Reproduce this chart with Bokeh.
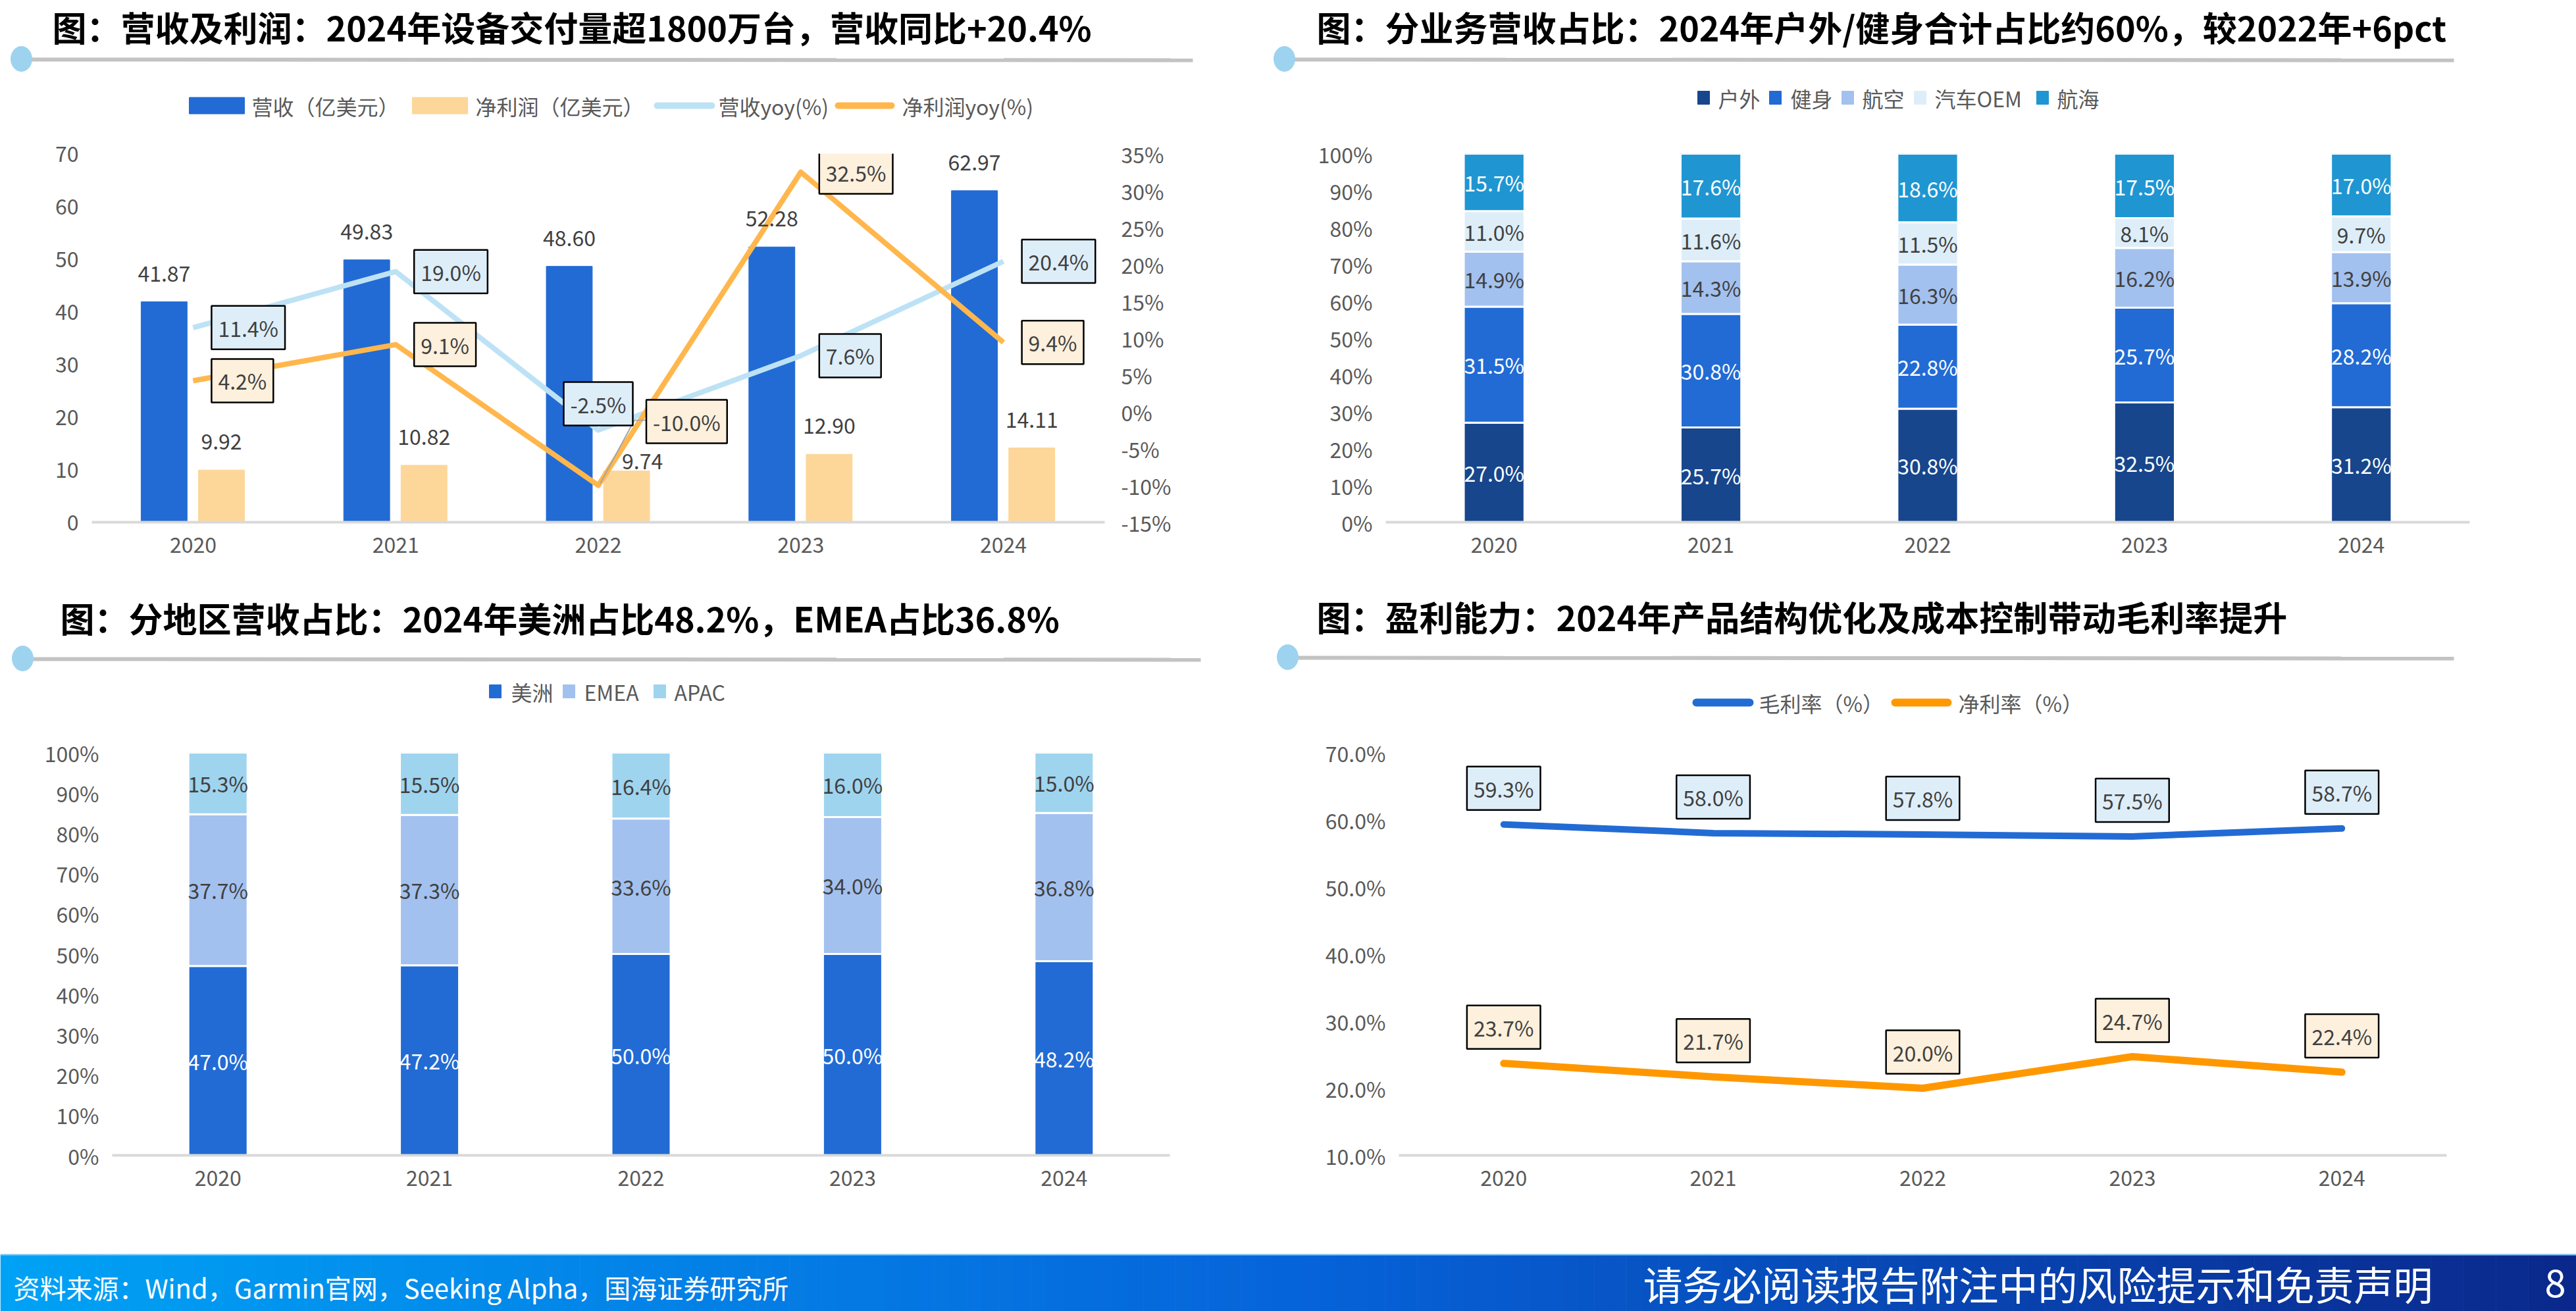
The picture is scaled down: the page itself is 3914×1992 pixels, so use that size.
import numpy as np
from bokeh.plotting import figure
from bokeh.models import (ColumnDataSource, FactorRange, Range1d, LinearAxis, FixedTicker,
                          LabelSet, Label, PrintfTickFormatter)
from bokeh.transform import dodge
from bokeh.layouts import column, row
from bokeh.core.properties import value
from bokeh.embed import file_html
from bokeh.resources import INLINE

FONT = "Noto Sans CJK SC"
TICK_COLOR = "#595959"
LABEL_COLOR = "#404040"

# ---------------- data ----------------
years = ["2020", "2021", "2022", "2023", "2024"]

revenue = [41.87, 49.83, 48.60, 52.28, 62.97]          # 营收（亿美元）
net_profit = [9.92, 10.82, 9.74, 12.90, 14.11]         # 净利润（亿美元）
revenue_yoy = [11.4, 19.0, -2.5, 7.6, 20.4]            # 营收yoy(%)
profit_yoy = [4.2, 9.1, -10.0, 32.5, 9.4]              # 净利润yoy(%)

seg_names = ["户外", "健身", "航空", "汽车OEM", "航海"]
seg_outdoor = [27.0, 25.7, 30.8, 32.5, 31.2]
seg_fitness = [31.5, 30.8, 22.8, 25.7, 28.2]
seg_aviation = [14.9, 14.3, 16.3, 16.2, 13.9]
seg_auto = [11.0, 11.6, 11.5, 8.1, 9.7]
seg_marine = [15.7, 17.6, 18.6, 17.5, 17.0]

region_names = ["美洲", "EMEA", "APAC"]
reg_americas = [47.0, 47.2, 50.0, 50.0, 48.2]
reg_emea = [37.7, 37.3, 33.6, 34.0, 36.8]
reg_apac = [15.3, 15.5, 16.4, 16.0, 15.0]

margin_names = ["毛利率（%）", "净利率（%）"]
gross_margin = [59.3, 58.0, 57.8, 57.5, 58.7]
net_margin = [23.7, 21.7, 20.0, 24.7, 22.4]

titles = [
    "图：营收及利润：2024年设备交付量超1800万台，营收同比+20.4%",
    "图：分业务营收占比：2024年户外/健身合计占比约60%，较2022年+6pct",
    "图：分地区营收占比：2024年美洲占比48.2%，EMEA占比36.8%",
    "图：盈利能力：2024年产品结构优化及成本控制带动毛利率提升",
]
source_text = "资料来源：Wind，Garmin官网，Seeking Alpha，国海证券研究所"
disclaimer = "请务必阅读报告附注中的风险提示和免责声明"
page_no = "8"

# ---------------- styles ----------------
C_REV = "#226bd4"
C_PROFIT = "#fdd699"
C_REV_YOY = "#bde2f5"
C_PROFIT_YOY = "#ffb74d"
SEG_COLORS = ["#17468c", "#226bd4", "#a3c1ef", "#ddeef9", "#1f96d2"]
SEG_TEXT = ["white", "white", LABEL_COLOR, LABEL_COLOR, "white"]
REG_COLORS = ["#226bd4", "#a3c1ef", "#9fd4ef"]
REG_TEXT = ["white", LABEL_COLOR, LABEL_COLOR]
C_GROSS = "#226bd4"
C_NET = "#ff9800"
BOX_BLUE = "#deeef9"
BOX_ORANGE = "#fdf0dc"


def make_chart(width, height, left, right, top, bottom, y0, y1, ticks, fmt):
    p = figure(width=width, height=height, x_range=FactorRange(factors=years),
               y_range=Range1d(y0, y1), output_backend="svg", toolbar_location=None,
               min_border_left=left, min_border_right=right, min_border_top=top,
               min_border_bottom=bottom, outline_line_color=None,
               background_fill_color="white", border_fill_color="white")
    p.grid.grid_line_color = None
    p.yaxis.ticker = FixedTicker(ticks=ticks)
    p.yaxis.formatter = PrintfTickFormatter(format=fmt)
    for ax in p.axis:
        ax.major_tick_line_color = None
        ax.minor_tick_line_color = None
        ax.major_tick_out = 0
        ax.major_tick_in = 0
        ax.major_label_text_font = FONT
        ax.major_label_text_font_size = "32px"
        ax.major_label_text_color = TICK_COLOR
    p.yaxis.axis_line_color = None
    p.yaxis.major_label_standoff = 20
    p.xaxis.axis_line_color = "#d9d9d9"
    p.xaxis.axis_line_width = 4
    p.xaxis.major_label_standoff = 22
    return p


def cat_pos(i):
    # synthetic coordinate of the i-th category centre on a FactorRange
    return i + 0.5


def box_label(p, x, y, text, fill, dx, dy, align, range_name="default"):
    p.add_layout(Label(x=x, y=y, text=text, x_offset=dx, y_offset=dy, text_align=align,
                       text_baseline="middle", text_font=FONT, text_font_size="32px",
                       text_color=LABEL_COLOR, background_fill_color=fill,
                       border_line_color="black", border_line_width=2.5, padding=10,
                       y_range_name=range_name))


def pct(v):
    return f"{v:.1f}%"


# ---------------- top-left: revenue & profit ----------------
tl = make_chart(1957, 690, 139, 279, 43, 87, 0, 70, list(range(0, 80, 10)), "%d")
tl.extra_y_ranges = {"yoy": Range1d(-15, 35)}
right_ax = LinearAxis(y_range_name="yoy", ticker=FixedTicker(ticks=list(range(-15, 40, 5))),
                      formatter=PrintfTickFormatter(format="%d%%"))
right_ax.axis_line_color = None
right_ax.major_tick_line_color = None
right_ax.minor_tick_line_color = None
right_ax.major_tick_out = 0
right_ax.major_tick_in = 0
right_ax.major_label_standoff = 25
right_ax.major_label_text_font = FONT
right_ax.major_label_text_font_size = "32px"
right_ax.major_label_text_color = TICK_COLOR
tl.add_layout(right_ax, "right")

profit_dx = [0, 0, 24, 0, 0]
profit_dy = [43, 43, 15, 43, 43]
src_tl = ColumnDataSource(dict(
    year=years, revenue=revenue, profit=net_profit, ryoy=revenue_yoy, pyoy=profit_yoy,
    rev_lbl=[f"{v:.2f}" for v in revenue], pro_lbl=[f"{v:.2f}" for v in net_profit],
    pdx=profit_dx, pdy=profit_dy))
REV_OFF, PRO_OFF, BW = -0.143, 0.14, 0.227
tl.vbar(x=dodge("year", REV_OFF, range=tl.x_range), top="revenue", width=BW, source=src_tl,
        color=C_REV)
tl.vbar(x=dodge("year", PRO_OFF, range=tl.x_range), top="profit", width=BW, source=src_tl,
        color=C_PROFIT)
tl.line(x="year", y="ryoy", source=src_tl, y_range_name="yoy", line_color=C_REV_YOY,
        line_width=8, line_join="round")
tl.line(x="year", y="pyoy", source=src_tl, y_range_name="yoy", line_color=C_PROFIT_YOY,
        line_width=8, line_join="round")
tl.add_layout(LabelSet(x=dodge("year", REV_OFF, range=tl.x_range), y="revenue", text="rev_lbl",
                       y_offset=43, source=src_tl, text_align="center", text_baseline="middle",
                       text_font=value(FONT), text_font_size=value("32px"),
                       text_color=LABEL_COLOR))
tl.add_layout(LabelSet(x=dodge("year", PRO_OFF, range=tl.x_range), y="profit", text="pro_lbl",
                       x_offset="pdx", y_offset="pdy", source=src_tl, text_align="center",
                       text_baseline="middle", text_font=value(FONT),
                       text_font_size=value("32px"), text_color=LABEL_COLOR))
# leader line for the -10.0% label
cat_px = 1539 / 5
yoy_px = 560 / 50
lx = cat_pos(2)
tl.line(x=[lx + 3 / cat_px, lx + 55 / cat_px, lx + 73 / cat_px],
        y=[profit_yoy[2] + 3 / yoy_px, profit_yoy[2] + 99 / yoy_px, profit_yoy[2] + 99 / yoy_px],
        y_range_name="yoy", line_color="#a6a6a6", line_width=2)
ryoy_dx = [28, 28, 0, 28, 28]
ryoy_dy = [0, 0, 40, 0, 0]
ryoy_al = ["left", "left", "center", "left", "left"]
pyoy_dx = [28, 28, 73, 28, 28]
pyoy_dy = [0, 0, 97, 0, 0]
for i in range(len(years)):
    box_label(tl, cat_pos(i), revenue_yoy[i], pct(revenue_yoy[i]), BOX_BLUE, ryoy_dx[i],
              ryoy_dy[i], ryoy_al[i], "yoy")
    box_label(tl, cat_pos(i), profit_yoy[i], pct(profit_yoy[i]), BOX_ORANGE, pyoy_dx[i],
              pyoy_dy[i], "left", "yoy")

# ---------------- top-right: segment share ----------------
tr = make_chart(1957, 690, 148, 162, 31, 87, 0, 100, list(range(0, 110, 10)), "%d%%")
seg_data = [seg_outdoor, seg_fitness, seg_aviation, seg_auto, seg_marine]
src_tr = ColumnDataSource(dict(year=years, **{n: d for n, d in zip(seg_names, seg_data)}))
tr.vbar_stack(seg_names, x="year", width=0.28, color=SEG_COLORS, source=src_tr,
              line_color="white", line_width=3)
lx_, ly_, lt_, lc_ = [], [], [], []
for j, yr in enumerate(years):
    base = 0.0
    for k, d in enumerate(seg_data):
        lx_.append(yr)
        ly_.append(base + d[j] / 2)
        lt_.append(pct(d[j]))
        lc_.append(SEG_TEXT[k])
        base += d[j]
tr.add_layout(LabelSet(x="x", y="y", text="t", text_color="c",
                       source=ColumnDataSource(dict(x=lx_, y=ly_, t=lt_, c=lc_)),
                       text_align="center", text_baseline="middle", text_font=value(FONT),
                       text_font_size=value("32px")))

# ---------------- bottom-left: region share ----------------
bl = make_chart(1957, 805, 170, 180, 24, 145, 0, 100, list(range(0, 110, 10)), "%d%%")
reg_data = [reg_americas, reg_emea, reg_apac]
src_bl = ColumnDataSource(dict(year=years, **{n: d for n, d in zip(region_names, reg_data)}))
bl.vbar_stack(region_names, x="year", width=0.28, color=REG_COLORS, source=src_bl,
              line_color="white", line_width=3)
lx_, ly_, lt_, lc_ = [], [], [], []
for j, yr in enumerate(years):
    base = 0.0
    for k, d in enumerate(reg_data):
        lx_.append(yr)
        ly_.append(base + d[j] / 2)
        lt_.append(pct(d[j]))
        lc_.append(REG_TEXT[k])
        base += d[j]
bl.add_layout(LabelSet(x="x", y="y", text="t", text_color="c",
                       source=ColumnDataSource(dict(x=lx_, y=ly_, t=lt_, c=lc_)),
                       text_align="center", text_baseline="middle", text_font=value(FONT),
                       text_font_size=value("32px")))

# ---------------- bottom-right: margins ----------------
br = make_chart(1957, 805, 168, 197, 43, 150, 10, 70, list(range(10, 80, 10)), "%.1f%%")
src_br = ColumnDataSource(dict(year=years, gross=gross_margin, net=net_margin))
br.line(x="year", y="gross", source=src_br, line_color=C_GROSS, line_width=10,
        line_cap="round", line_join="round")
br.line(x="year", y="net", source=src_br, line_color=C_NET, line_width=11,
        line_cap="round", line_join="round")
for i in range(len(years)):
    box_label(br, cat_pos(i), gross_margin[i], pct(gross_margin[i]), BOX_BLUE, 0, 55, "center")
    box_label(br, cat_pos(i), net_margin[i], pct(net_margin[i]), BOX_ORANGE, 0, 55, "center")


# ---------------- headers (titles, decorations, legends) ----------------
def canvas(w, h):
    f = figure(width=w, height=h, x_range=Range1d(0, w), y_range=Range1d(h, 0),
               x_axis_type=None, y_axis_type=None, output_backend="svg",
               toolbar_location=None, min_border=0, outline_line_color=None,
               background_fill_color="white", border_fill_color="white")
    f.grid.grid_line_color = None
    return f


def title_text(f, x, y, t):
    f.text(x=[x], y=[y], text=[t], text_font=value(FONT), text_font_size=value("52px"),
           text_font_style="bold", text_color="black", text_baseline="middle",
           text_align="left")


def decor(f, cx, cy, x_end):
    f.segment(x0=[cx + 14], y0=[cy + 1], x1=[x_end], y1=[cy + 2], line_color="#c3c3c3",
              line_width=6)
    f.ellipse(x=[cx], y=[cy], width=32, height=38, color="#9dd3ef")


def legend_text(f, xs, y, texts):
    f.text(x=xs, y=[y] * len(xs), text=texts, text_font=value(FONT),
           text_font_size=value("32px"), text_color=TICK_COLOR, text_baseline="middle",
           text_align="left")


ht = canvas(3914, 190)
title_text(ht, 79, 40, titles[0])
title_text(ht, 2000, 40, titles[1])
decor(ht, 32, 89, 1812)
decor(ht, 1951, 89, 3728)
# top-left legend
ht.rect(x=[329, 668], y=[160, 160], width=84, height=25, color=[C_REV, C_PROFIT])
ht.segment(x0=[998, 1273], y0=[160, 160], x1=[1081, 1354], y1=[160, 160],
           line_color=[C_REV_YOY, C_PROFIT_YOY], line_width=10, line_cap="round")
legend_text(ht, [382, 722, 1091, 1370], 160,
            ["营收（亿美元）", "净利润（亿美元）", "营收yoy(%)", "净利润yoy(%)"])
# top-right legend
ht.rect(x=[2588, 2697, 2807, 2917, 3103], y=[148] * 5, width=18, height=20,
        color=SEG_COLORS)
legend_text(ht, [2610, 2720, 2829, 2939, 3125], 148, seg_names)

hb = canvas(3914, 220)
title_text(hb, 91, 58, titles[2])
title_text(hb, 2000, 56, titles[3])
decor(hb, 34, 120, 1824)
decor(hb, 1956, 118, 3728)
hb.rect(x=[752, 864, 1002], y=[170] * 3, width=18, height=20, color=REG_COLORS)
legend_text(hb, [776, 887, 1024], 170, region_names)
hb.segment(x0=[2577, 2879], y0=[187, 187], x1=[2658, 2959], y1=[187, 187],
           line_color=[C_GROSS, C_NET], line_width=12, line_cap="round")
legend_text(hb, [2672, 2975], 187, margin_names)

# ---------------- footer ----------------
ft = canvas(3914, 87)
n = 160
edges = np.linspace(0, 3914, n + 1)
stops = [(0.0, (0, 162, 245)), (0.5, (6, 100, 218)), (1.0, (10, 40, 140))]
cols = []
for i in range(n):
    t = (i + 0.5) / n
    if t < 0.5:
        a, b, u = stops[0][1], stops[1][1], t / 0.5
    else:
        a, b, u = stops[1][1], stops[2][1], (t - 0.5) / 0.5
    c = tuple(int(round(a[k] + (b[k] - a[k]) * u)) for k in range(3))
    cols.append("#%02x%02x%02x" % c)
ft.quad(left=edges[:-1], right=edges[1:] + 0.6, top=0, bottom=87, color=cols, line_color=None)
ft.segment(x0=[0], y0=[1], x1=[3914], y1=[1], line_color="#7cc8f5", line_width=2)
ft.text(x=[20], y=[50], text=[source_text], text_font=value(FONT),
        text_font_size=value("40px"), text_color="white", text_baseline="middle")
ft.text(x=[2496], y=[44], text=[disclaimer], text_font=value(FONT),
        text_font_size=value("60px"), text_color="white", text_baseline="middle")
ft.text(x=[3866], y=[44], text=[page_no], text_font=value(FONT),
        text_font_size=value("58px"), text_color="white", text_baseline="middle")

layout = column(ht, row(tl, tr), hb, row(bl, br), ft)
open("out.html", "w").write(file_html(layout, INLINE))
